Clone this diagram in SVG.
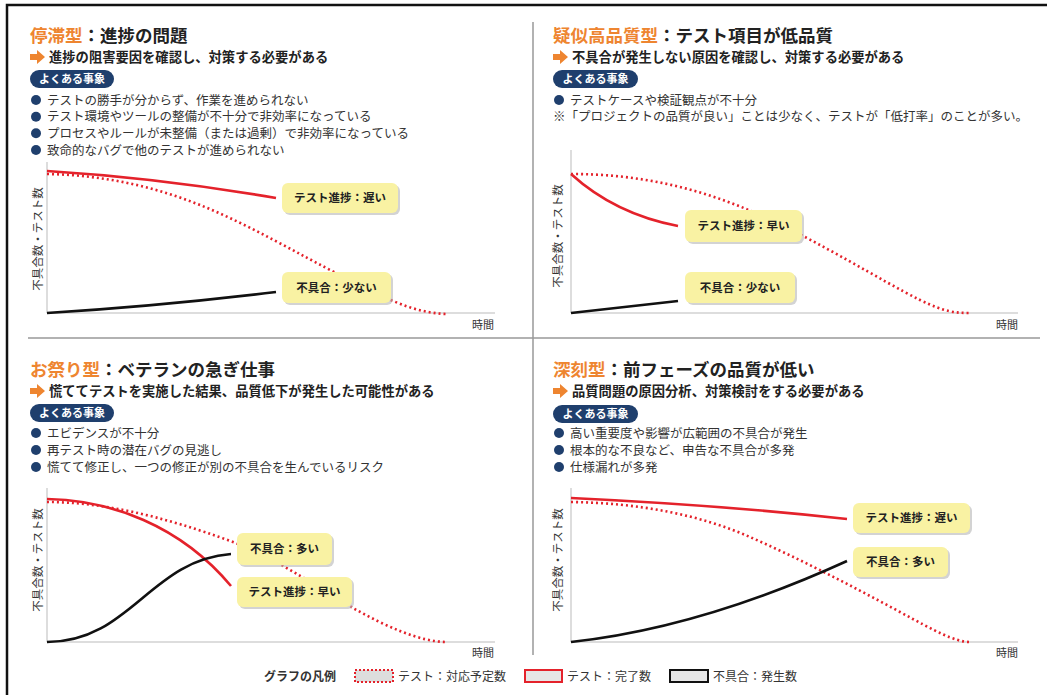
<svg xmlns="http://www.w3.org/2000/svg" width="1047" height="695" viewBox="0 0 1047 695">
<defs>
<style>
text{font-family:"Noto Sans CJK JP","Noto Sans",sans-serif;fill:#222}
.title{font-size:17.5px;font-weight:700}
.or{fill:#ee8530}
.sub{font-size:13.3px;font-weight:700}
.badge{fill:#1f3f6d}
.btxt{font-size:11px;font-weight:700;fill:#fff}
.bul{font-size:12.5px;fill:#333}
.dot{fill:#1f3f6d}
.arr{fill:#ee8530}
.axis{stroke:#bbb;stroke-width:1;fill:none}
.ylab{font-size:11.5px;fill:#333}
.tl{font-size:11px;fill:#333}
.plan{stroke:#e4222b;stroke-width:2.6;fill:none;stroke-dasharray:2 3}
.done{stroke:#e4222b;stroke-width:2.6;fill:none}
.bug{stroke:#111;stroke-width:2.6;fill:none}
.lbox{fill:#f9f2a3}
.lsh{fill:#b5b5b5;opacity:.6}
.ltxt{font-size:11.5px;font-weight:700;fill:#222}
.sep{stroke:#999;stroke-width:1.5;fill:none}
.leg{font-size:12px;fill:#333}
</style>
</defs>
<rect width="1047" height="695" fill="#fff"/>
<path d="M7,695 V5 H1047" stroke="#111" stroke-width="2.5" fill="none"/>
<path class="sep" d="M28,338 H1040 M533,22 V655"/>

<g id="panel-stagnation">
<text class="title" x="30" y="42"><tspan class="or">停滞型</tspan>：進捗の問題</text>
<path class="arr" d="M30,54 H37 V50 L45,57 L37,64 V60 H30 Z"/>
<text class="sub" x="49" y="62">進捗の阻害要因を確認し、対策する必要がある</text>
<rect class="badge" x="30" y="70" width="84" height="18" rx="9"/>
<text class="btxt" x="72" y="83" text-anchor="middle">よくある事象</text>
<circle class="dot" cx="36" cy="100" r="5"/><text class="bul" x="47" y="104.5">テストの勝手が分からず、作業を進められない</text>
<circle class="dot" cx="36" cy="116.7" r="5"/><text class="bul" x="47" y="121.2">テスト環境やツールの整備が不十分で非効率になっている</text>
<circle class="dot" cx="36" cy="133.3" r="5"/><text class="bul" x="47" y="137.8">プロセスやルールが未整備（または過剰）で非効率になっている</text>
<circle class="dot" cx="36" cy="150" r="5"/><text class="bul" x="47" y="154.5">致命的なバグで他のテストが進められない</text>
<path class="axis" d="M47,162 V313 H495"/>
<text class="ylab" transform="translate(42,239) rotate(-90)" text-anchor="middle">不具合数・テスト数</text>
<text class="tl" x="494" y="329" text-anchor="end">時間</text>
</g>

<g id="panel-pseudo-quality">
<text class="title" x="553" y="42"><tspan class="or">疑似高品質型</tspan>：テスト項目が低品質</text>
<path class="arr" d="M553,54 H560 V50 L568,57 L560,64 V60 H553 Z"/>
<text class="sub" x="572" y="62">不具合が発生しない原因を確認し、対策する必要がある</text>
<rect class="badge" x="553" y="70" width="85" height="18" rx="9"/>
<text class="btxt" x="595.5" y="83" text-anchor="middle">よくある事象</text>
<circle class="dot" cx="559" cy="100" r="5"/><text class="bul" x="570" y="104.5">テストケースや検証観点が不十分</text>
<text class="bul" x="553" y="121">※「プロジェクトの品質が良い」ことは少なく、テストが「低打率」のことが多い。</text>
<path class="axis" d="M571,150 V313 H1018"/>
<text class="ylab" transform="translate(562,236) rotate(-90)" text-anchor="middle">不具合数・テスト数</text>
<text class="tl" x="1018" y="329" text-anchor="end">時間</text>
</g>

<g id="panel-festival">
<text class="title" x="30" y="376"><tspan class="or">お祭り型</tspan>：ベテランの急ぎ仕事</text>
<path class="arr" d="M30,388 H37 V384 L45,391 L37,398 V394 H30 Z"/>
<text class="sub" x="49" y="396">慌ててテストを実施した結果、品質低下が発生した可能性がある</text>
<rect class="badge" x="30" y="404" width="84" height="18" rx="9"/>
<text class="btxt" x="72" y="417" text-anchor="middle">よくある事象</text>
<circle class="dot" cx="36" cy="433" r="5"/><text class="bul" x="47" y="437.5">エビデンスが不十分</text>
<circle class="dot" cx="36" cy="450" r="5"/><text class="bul" x="47" y="454.5">再テスト時の潜在バグの見逃し</text>
<circle class="dot" cx="36" cy="467" r="5"/><text class="bul" x="47" y="471.5">慌てて修正し、一つの修正が別の不具合を生んでいるリスク</text>
<path class="axis" d="M47,488 V642 H495"/>
<text class="ylab" transform="translate(42,560) rotate(-90)" text-anchor="middle">不具合数・テスト数</text>
<text class="tl" x="494" y="657" text-anchor="end">時間</text>
</g>

<g id="panel-serious">
<text class="title" x="553" y="376"><tspan class="or">深刻型</tspan>：前フェーズの品質が低い</text>
<path class="arr" d="M553,388 H560 V384 L568,391 L560,398 V394 H553 Z"/>
<text class="sub" x="572" y="396">品質問題の原因分析、対策検討をする必要がある</text>
<rect class="badge" x="553" y="405" width="85" height="18" rx="9"/>
<text class="btxt" x="595.5" y="418" text-anchor="middle">よくある事象</text>
<circle class="dot" cx="559" cy="433" r="5"/><text class="bul" x="570" y="437.5">高い重要度や影響が広範囲の不具合が発生</text>
<circle class="dot" cx="559" cy="450" r="5"/><text class="bul" x="570" y="454.5">根本的な不良など、申告な不具合が多発</text>
<circle class="dot" cx="559" cy="467" r="5"/><text class="bul" x="570" y="471.5">仕様漏れが多発</text>
<path class="axis" d="M571,488 V642 H1018"/>
<text class="ylab" transform="translate(562,560) rotate(-90)" text-anchor="middle">不具合数・テスト数</text>
<text class="tl" x="1018" y="657" text-anchor="end">時間</text>
</g>

<g id="connectors">
<path class="plan" d="M47,174 C100,175 150,185 200,205 C250,225 300,255 340,275 C380,295 410,313 447,314"/>
<path class="done" d="M47,171 Q160,178 276,198"/>
<path class="bug" d="M47,313 Q160,306 276,292"/>
<path class="plan" d="M571,174 C640,174 700,188 760,215 C820,242 880,280 920,300 C945,312 955,313 970,313"/>
<path class="done" d="M571,174 Q615,214 678,226"/>
<path class="bug" d="M571,313 L678,301"/>
<path class="plan" d="M47,502 C100,502 160,515 233,542 C280,560 330,595 353,608 C385,626 420,642 447,642"/>
<path class="done" d="M47,499 C110,500 180,525 231,586"/>
<path class="bug" d="M47,642 C130,642 150,560 231,554"/>
<path class="plan" d="M571,502 C640,503 700,515 750,537 C800,559 850,585 900,612 C935,631 955,642 970,642"/>
<path class="done" d="M571,498 Q720,505 847,519"/>
<path class="bug" d="M571,642 Q700,628 847,561"/>
</g>

<g id="label-p1-progress"><rect class="lsh" x="284" y="185" width="116" height="30" rx="6"/><rect class="lbox" x="282" y="183" width="116" height="30" rx="6"/><text class="ltxt" x="340" y="202" text-anchor="middle">テスト進捗：遅い</text></g>
<g id="label-p1-bug"><rect class="lsh" x="284" y="274" width="109" height="31" rx="6"/><rect class="lbox" x="282" y="272" width="109" height="31" rx="6"/><text class="ltxt" x="336.5" y="292" text-anchor="middle">不具合：少ない</text></g>
<g id="label-p2-progress"><rect class="lsh" x="687" y="212" width="117" height="32" rx="6"/><rect class="lbox" x="685" y="210" width="117" height="32" rx="6"/><text class="ltxt" x="743.5" y="230" text-anchor="middle">テスト進捗：早い</text></g>
<g id="label-p2-bug"><rect class="lsh" x="687" y="274" width="110" height="31" rx="6"/><rect class="lbox" x="685" y="272" width="110" height="31" rx="6"/><text class="ltxt" x="740" y="292" text-anchor="middle">不具合：少ない</text></g>
<g id="label-p3-bug"><rect class="lsh" x="239" y="535" width="95" height="32" rx="6"/><rect class="lbox" x="237" y="533" width="95" height="32" rx="6"/><text class="ltxt" x="284.5" y="553" text-anchor="middle">不具合：多い</text></g>
<g id="label-p3-progress"><rect class="lsh" x="239" y="579" width="115" height="30" rx="6"/><rect class="lbox" x="237" y="577" width="115" height="30" rx="6"/><text class="ltxt" x="294.5" y="596" text-anchor="middle">テスト進捗：早い</text></g>
<g id="label-p4-progress"><rect class="lsh" x="855" y="505" width="117" height="30" rx="6"/><rect class="lbox" x="853" y="503" width="117" height="30" rx="6"/><text class="ltxt" x="911.5" y="522" text-anchor="middle">テスト進捗：遅い</text></g>
<g id="label-p4-bug"><rect class="lsh" x="855" y="549" width="95" height="30" rx="6"/><rect class="lbox" x="853" y="547" width="95" height="30" rx="6"/><text class="ltxt" x="900.5" y="566" text-anchor="middle">不具合：多い</text></g>

<g id="legend">
<text class="leg" x="336" y="681" text-anchor="end" style="font-weight:700">グラフの凡例</text>
<rect x="355" y="670" width="38" height="12" fill="#ddd" stroke="#e4222b" stroke-width="2" stroke-dasharray="2 2"/>
<text class="leg" x="398" y="681">テスト：対応予定数</text>
<rect x="525" y="670" width="37" height="12" fill="#e6e6e6" stroke="#e4222b" stroke-width="2"/>
<text class="leg" x="567" y="681">テスト：完了数</text>
<rect x="670" y="670" width="38" height="12" fill="#e6e6e6" stroke="#111" stroke-width="2"/>
<text class="leg" x="713" y="681">不具合：発生数</text>
</g>
</svg>
